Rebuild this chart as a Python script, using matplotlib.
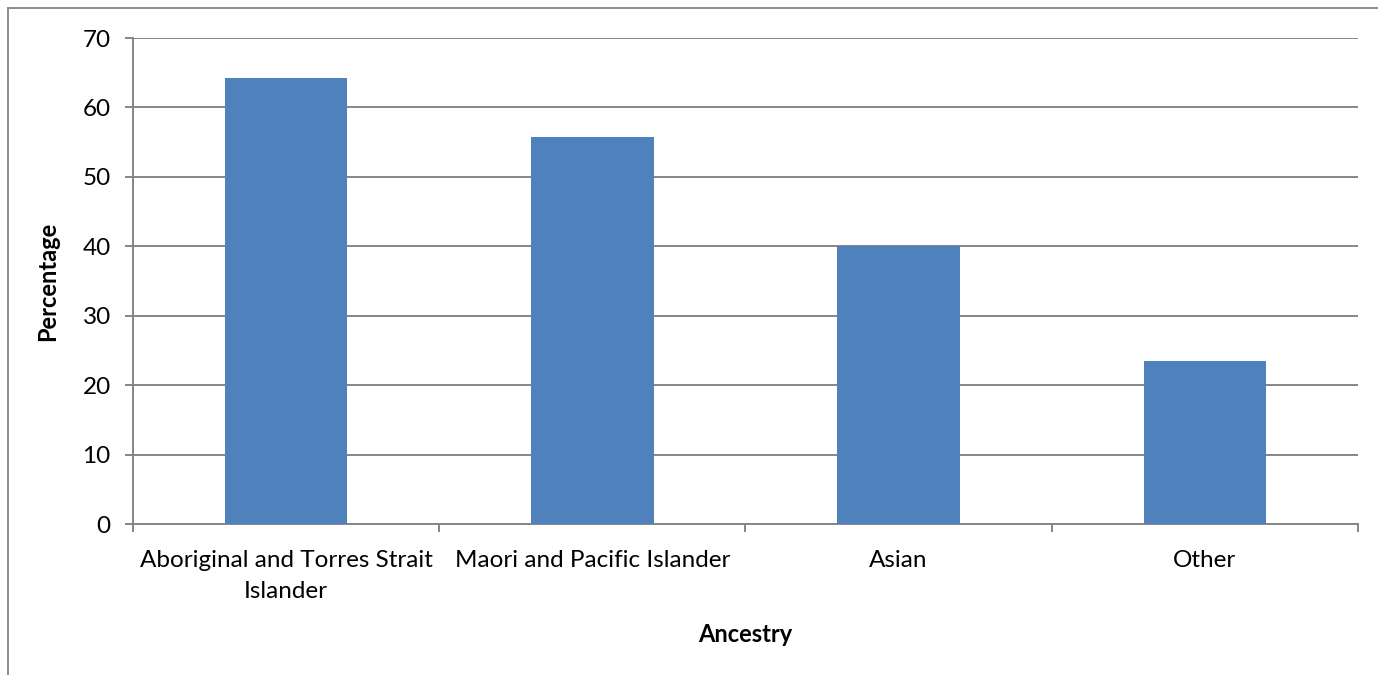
import matplotlib
matplotlib.use('Agg')
import matplotlib.pyplot as plt
from matplotlib.lines import Line2D

# percentage by ancestry group
categories = ['Aboriginal and Torres Strait\nIslander', 'Maori and Pacific Islander', 'Asian', 'Other']
percentages = [64.3, 55.7, 40.0, 23.5]

plt.rcParams['font.family'] = ['Lato', 'DejaVu Sans']

fig = plt.figure(figsize=(13.78, 6.75), dpi=100)
ax = fig.add_axes([0.0965, 0.2237, 0.889, 0.72])

grid_c = '#868686'
x = list(range(len(categories)))
ax.bar(x, percentages, width=0.4, color='#4f81bd', zorder=3)

ax.set_xlim(-0.5, len(categories) - 0.5)
ax.set_ylim(0, 70)
ax.set_yticks(range(0, 71, 10))
ax.yaxis.grid(True, color=grid_c, linewidth=1.4, zorder=0)

# category labels centred, tick marks on category boundaries
ax.set_xticks(x)
ax.set_xticklabels(categories, fontsize=17.5, linespacing=1.55)
ax.set_xticks([i - 0.5 for i in range(len(categories) + 1)], minor=True)
ax.tick_params(axis='x', which='major', length=0, pad=19)
ax.tick_params(axis='x', which='minor', length=6, width=1.4, color=grid_c, direction='out')
ax.tick_params(axis='y', length=6, width=1.4, color=grid_c, labelsize=17.5, pad=10)

for side in ['top', 'right']:
    ax.spines[side].set_visible(False)
for side in ['left', 'bottom']:
    ax.spines[side].set_color(grid_c)
    ax.spines[side].set_linewidth(1.4)

ax.set_xlabel('Ancestry', fontsize=17, fontweight='bold', labelpad=15)
ax.set_ylabel('Percentage', fontsize=17, fontweight='bold', labelpad=17)

# outer chart frame
frame_c = '#8c8c8c'
fig.add_artist(Line2D([8 / 1378, 8 / 1378], [0, 1 - 8 / 675], color=frame_c, linewidth=1.4))
fig.add_artist(Line2D([8 / 1378, 1], [1 - 8 / 675, 1 - 8 / 675], color=frame_c, linewidth=1.4))

fig.savefig('out.png', dpi=100)
